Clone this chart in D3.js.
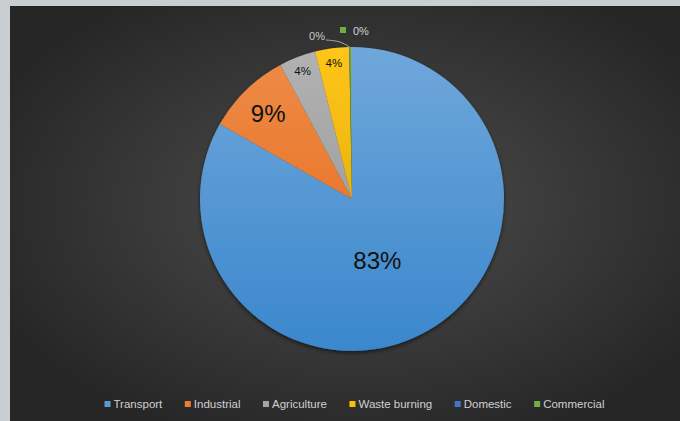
<!DOCTYPE html>
<html>
<head>
<meta charset="utf-8">
<script src="https://cdn.jsdelivr.net/npm/d3@7"></script>
<style>
  html, body { margin: 0; padding: 0; background: #c9ced1; }
  svg { display: block; }
</style>
</head>
<body>
<div id="chart"></div>
<script>
const categories = ["Transport", "Industrial", "Agriculture", "Waste burning", "Domestic", "Commercial"];
const shares = [83.2, 9.0, 3.9, 3.6, 0.1, 0.2];
const colors = ["#5b9bd5", "#ed7d31", "#a5a5a5", "#ffc000", "#4472c4", "#70ad47"];

const width = 680, height = 421;
const cx = 352, cy = 199, radius = 152;

const svg = d3.select("#chart").append("svg")
  .attr("width", width)
  .attr("height", height);

const defs = svg.append("defs");

// dark panel, lighter towards the middle
const bg = defs.append("radialGradient").attr("id", "bg")
  .attr("cx", "52%").attr("cy", "48%").attr("r", "60%");
bg.append("stop").attr("offset", "0%").attr("stop-color", "#4e4e4e");
bg.append("stop").attr("offset", "100%").attr("stop-color", "#262626");

const shadow = defs.append("filter").attr("id", "shadow")
  .attr("x", "-10%").attr("y", "-10%").attr("width", "120%").attr("height", "120%");
shadow.append("feDropShadow")
  .attr("dx", 0).attr("dy", 2).attr("stdDeviation", 2)
  .attr("flood-color", "#000").attr("flood-opacity", 0.55);

svg.append("rect").attr("width", width).attr("height", height).attr("fill", "#c9ced1");
svg.append("rect")
  .attr("x", 10).attr("y", 6)
  .attr("width", width - 10).attr("height", height - 6)
  .attr("fill", "url(#bg)");

// office style gradient on each slice
colors.forEach((c, i) => {
  const top = d3.hsl(c), bottom = d3.hsl(c);
  top.l = Math.min(1, top.l + 0.05);
  bottom.l = bottom.l - 0.08;
  const g = defs.append("linearGradient").attr("id", "fill" + i)
    .attr("gradientUnits", "userSpaceOnUse")
    .attr("x1", 0).attr("y1", -radius).attr("x2", 0).attr("y2", radius);
  g.append("stop").attr("offset", "0%").attr("stop-color", top.formatHex());
  g.append("stop").attr("offset", "100%").attr("stop-color", bottom.formatHex());
});

const pie = d3.pie().sort(null).value(d => d)(shares);
const arc = d3.arc().innerRadius(0).outerRadius(radius);

const g = svg.append("g").attr("transform", `translate(${cx},${cy})`);

g.append("g")
  .attr("filter", "url(#shadow)")
  .selectAll("path.slice")
  .data(pie)
  .join("path")
  .attr("class", "slice")
  .attr("d", arc)
  .attr("fill", (d, i) => `url(#fill${i})`);

const pct = v => Math.round(v) + "%";
const font = "Liberation Sans, Arial, sans-serif";

// labels inside the four visible slices (radius fraction, angle nudge in degrees)
const inner = [
  { i: 0, r: 0.44, nudge: 8, size: 24 },
  { i: 1, r: 0.79, nudge: 0, size: 24 },
  { i: 2, r: 0.905, nudge: 0, size: 11.5 },
  { i: 3, r: 0.905, nudge: 0, size: 11.5 }
];
inner.forEach(o => {
  const d = pie[o.i];
  const a = (d.startAngle + d.endAngle) / 2 + o.nudge * Math.PI / 180;
  g.append("text")
    .attr("x", Math.sin(a) * radius * o.r)
    .attr("y", -Math.cos(a) * radius * o.r)
    .attr("text-anchor", "middle")
    .attr("dominant-baseline", "central")
    .attr("font-family", font)
    .attr("font-size", o.size)
    .attr("fill", "#111")
    .text(pct(shares[o.i]));
});

// Domestic label with leader line
const dom = pie[4];
const domAngle = (dom.startAngle + dom.endAngle) / 2;
const edge = [Math.sin(domAngle) * radius, -Math.cos(domAngle) * radius];
g.append("path")
  .attr("d", d3.line().curve(d3.curveBasis)([[-26, -159], [-12, -158], edge]))
  .attr("fill", "none")
  .attr("stroke", "#a6a6a6")
  .attr("stroke-width", 1);
g.append("text")
  .attr("x", -35).attr("y", -159)
  .attr("text-anchor", "middle")
  .attr("font-family", font)
  .attr("font-size", 11)
  .attr("fill", "#c8c8c8")
  .text(pct(shares[4]));

// Commercial label with its key
g.append("rect")
  .attr("x", -12).attr("y", -172)
  .attr("width", 6).attr("height", 6)
  .attr("fill", colors[5]);
g.append("text")
  .attr("x", 1).attr("y", -164)
  .attr("font-family", font)
  .attr("font-size", 11)
  .attr("fill", "#d0d0d0")
  .text(pct(shares[5]));

// legend
const legend = svg.append("g").attr("transform", "translate(0,408)");
const items = legend.selectAll("g").data(categories).join("g");
items.append("rect")
  .attr("y", -7).attr("width", 6).attr("height", 6)
  .attr("fill", (d, i) => colors[i]);
items.append("text")
  .attr("x", 9).attr("y", 0)
  .attr("font-family", font)
  .attr("font-size", 11.5)
  .attr("fill", "#d0d0d0")
  .text(d => d);

const gap = 22.5;
const widths = [];
items.each(function () { widths.push(9 + d3.select(this).select("text").node().getComputedTextLength()); });
const total = d3.sum(widths) + gap * (widths.length - 1);
let x = 354.5 - total / 2;
items.attr("transform", (d, i) => {
  const t = `translate(${x},0)`;
  x += widths[i] + gap;
  return t;
});
</script>
</body>
</html>
